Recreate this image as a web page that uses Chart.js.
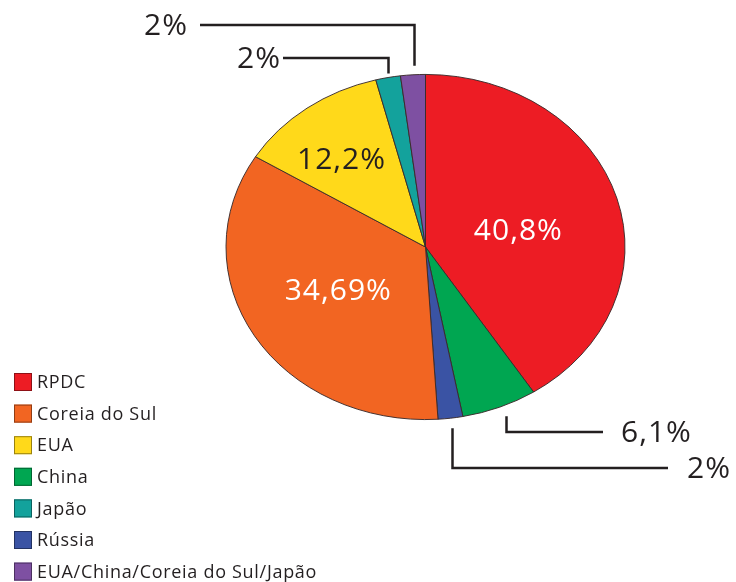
<!DOCTYPE html>
<html>
<head>
<meta charset="utf-8">
<script src="https://cdn.jsdelivr.net/npm/chart.js@4/dist/chart.umd.min.js"></script>
<style>
  html, body { margin: 0; padding: 0; background: #fff; }
  canvas { display: block; }
</style>
</head>
<body>
<canvas id="pieChart" width="736" height="582"></canvas>
<script>
// slices in drawing order, clockwise from 12 o'clock
const categories = ['RPDC', 'China', 'Rússia', 'Coreia do Sul', 'EUA', 'Japão', 'EUA/China/Coreia do Sul/Japão'];
const shares = [40.8, 6.1, 2, 34.69, 12.2, 2, 2];
const shareLabels = ['40,8%', '6,1%', '2%', '34,69%', '12,2%', '2%', '2%'];
const sliceColors = ['#ED1C24', '#00A651', '#3A53A4', '#F26522', '#FFD91A', '#13A29C', '#7E50A2'];
const legendOrder = ['RPDC', 'Coreia do Sul', 'EUA', 'China', 'Japão', 'Rússia', 'EUA/China/Coreia do Sul/Japão'];

const FONT = '"Open Sans", "Noto Sans", sans-serif';
const INK = '#231F20';
const SQUASH = 0.865; // the pie is drawn as a flattened ellipse

const darken = (hex, f) => {
  const n = parseInt(hex.slice(1), 16);
  const r = Math.round(((n >> 16) & 255) * f), g = Math.round(((n >> 8) & 255) * f), b = Math.round((n & 255) * f);
  return `rgb(${r},${g},${b})`;
};

// point along the middle of a slice, frac of the radius out from the centre
const slicePoint = (arc, frac) => {
  const mid = (arc.startAngle + arc.endAngle) / 2;
  return {
    x: arc.x + Math.cos(mid) * arc.outerRadius * frac,
    y: arc.y + Math.sin(mid) * arc.outerRadius * frac * SQUASH
  };
};

// labels inside the pie
const insideLabels = [
  { index: 0, frac: 0.48, dx: 1, dy: 8, color: '#fff' },
  { index: 3, frac: 0.51, dx: 0, dy: -1, color: '#fff' },
  { index: 4, frac: 0.70, dx: -1, dy: 11, color: INK }
];

// leader lines for the thin slices
const callouts = [
  { index: 6, dx: 1, gap: -9, lineY: 25, endX: 200, textX: 188, align: 'right' },
  { index: 5, dx: 0, gap: -4, lineY: 58, endX: 283, textX: 281, align: 'right' },
  { index: 1, dx: 6, gap: 9, lineY: 432, endX: 603, textX: 621, align: 'left' },
  { index: 2, dx: 2, gap: 10, lineY: 468, endX: 668, textX: 687, align: 'left' }
];

const ellipsePlugin = {
  id: 'ellipse',
  beforeDatasetsDraw(chart) {
    const arc = chart.getDatasetMeta(0).data[0];
    const ctx = chart.ctx;
    ctx.save();
    ctx.translate(0, arc.y);
    ctx.scale(1, SQUASH);
    ctx.translate(0, -arc.y);
  },
  afterDatasetsDraw(chart) {
    chart.ctx.restore();
  }
};

const annotatePlugin = {
  id: 'annotate',
  afterDraw(chart) {
    const ctx = chart.ctx;
    const arcs = chart.getDatasetMeta(0).data;
    ctx.save();

    ctx.textBaseline = 'middle';
    ctx.textAlign = 'center';
    ctx.font = `30px ${FONT}`;
    ctx.letterSpacing = '1px';
    insideLabels.forEach(l => {
      const p = slicePoint(arcs[l.index], l.frac);
      ctx.fillStyle = l.color;
      ctx.fillText(shareLabels[l.index], p.x + l.dx, p.y + l.dy);
    });

    ctx.strokeStyle = INK;
    ctx.lineWidth = 2.5;
    ctx.fillStyle = INK;
    callouts.forEach(c => {
      const edge = slicePoint(arcs[c.index], 1);
      const x = Math.round(edge.x + c.dx) + 0.5;
      ctx.beginPath();
      ctx.moveTo(x, edge.y + c.gap);
      ctx.lineTo(x, c.lineY);
      ctx.lineTo(c.endX, c.lineY);
      ctx.stroke();
      ctx.textAlign = c.align;
      ctx.fillText(shareLabels[c.index], c.textX, c.lineY + 1);
    });

    // legend, bottom left
    ctx.font = `18px ${FONT}`;
    ctx.letterSpacing = '0.7px';
    ctx.textAlign = 'left';
    ctx.lineWidth = 1;
    legendOrder.forEach((name, i) => {
      const k = categories.indexOf(name);
      const cy = 382 + i * 31.6;
      ctx.fillStyle = sliceColors[k];
      ctx.fillRect(14, cy - 9, 18, 18);
      ctx.strokeStyle = darken(sliceColors[k], 0.6);
      ctx.strokeRect(14.5, cy - 8.5, 17, 17);
      ctx.fillStyle = INK;
      ctx.fillText(name, 37, cy + 1);
    });

    ctx.restore();
  }
};

new Chart(document.getElementById('pieChart').getContext('2d'), {
  type: 'pie',
  data: {
    labels: categories,
    datasets: [{
      data: shares,
      backgroundColor: sliceColors,
      borderColor: '#3a2a2a',
      borderWidth: 1
    }]
  },
  options: {
    responsive: false,
    animation: false,
    layout: { padding: { left: 225, right: 110, top: 47, bottom: 135 } },
    plugins: {
      legend: { display: false },
      tooltip: { enabled: false }
    }
  },
  plugins: [ellipsePlugin, annotatePlugin]
});
</script>
</body>
</html>
